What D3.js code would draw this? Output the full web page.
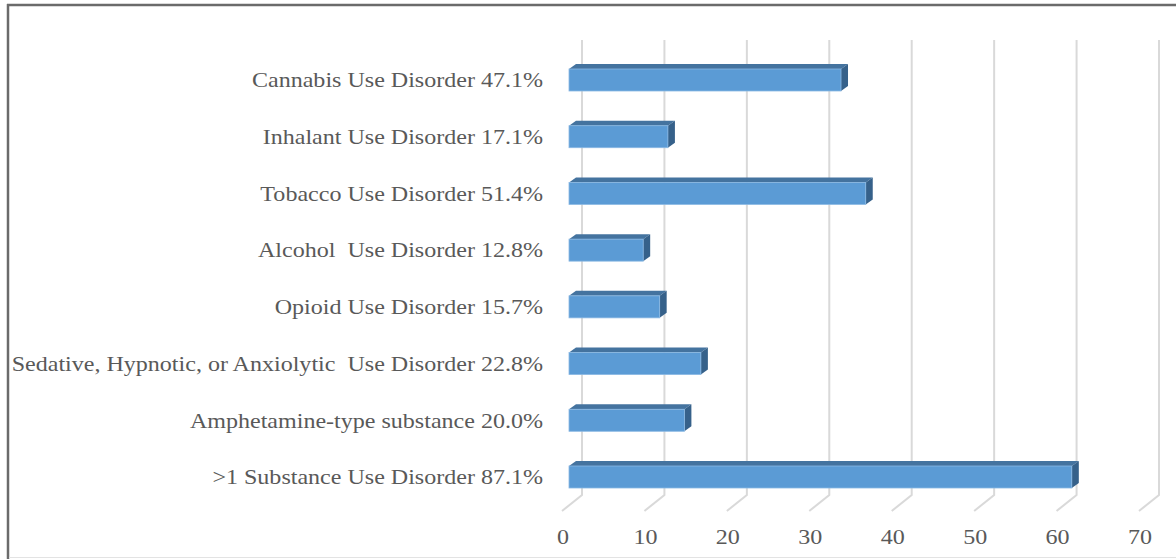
<!DOCTYPE html>
<html>
<head>
<meta charset="utf-8">
<script src="https://cdn.jsdelivr.net/npm/d3@7"></script>
<style>
  body { margin: 0; background: #fff; }
</style>
</head>
<body>
<div id="chart"></div>
<script>
// chart data
const categories = [
  "Cannabis Use Disorder 47.1%",
  "Inhalant Use Disorder 17.1%",
  "Tobacco Use Disorder 51.4%",
  "Alcohol  Use Disorder 12.8%",
  "Opioid Use Disorder 15.7%",
  "Sedative, Hypnotic, or Anxiolytic  Use Disorder 22.8%",
  "Amphetamine-type substance 20.0%",
  ">1 Substance Use Disorder 87.1%"
];
const values = [33, 12, 36, 9, 11, 16, 14, 61];
const ticks = [0, 10, 20, 30, 40, 50, 60, 70];

let width = 1176, height = 559;
let font = "'Liberation Serif', 'Times New Roman', serif";
let stretch = 1.145; // the source picture is a little wider than tall

// 3d offsets
let depth = {dx: 7, dy: 5};
let wall = {dx: 13, top: 40, bottom: 495};
let floor = {dx: -20, dy: 16};
let barH = 22;

let svg = d3.select("#chart").append("svg")
  .attr("width", width)
  .attr("height", height);

// x for the bar front face
let x = d3.scaleLinear().domain([0, 70]).range([569, 1146]);
let y = d3.scalePoint().domain(categories).range([80, 477]);

// frame
svg.append("line").attr("x1", 8).attr("x2", 8).attr("y1", 4).attr("y2", height)
  .attr("stroke", "#6b6b6b").attr("stroke-width", 2.5);
svg.append("line").attr("x1", 7).attr("x2", width).attr("y1", 5).attr("y2", 5)
  .attr("stroke", "#6b6b6b").attr("stroke-width", 2.5);
svg.append("line").attr("x1", 9).attr("x2", width).attr("y1", 557.5).attr("y2", 557.5)
  .attr("stroke", "#e3e3e3").attr("stroke-width", 1);

// gridlines: back wall + floor
let grid = svg.append("g").attr("fill", "none").attr("stroke", "#d9d9d9").attr("stroke-width", 2);
grid.selectAll("path").data(ticks).join("path")
  .attr("d", d => {
    let bx = x(d) + wall.dx;
    return `M${bx},${wall.top}L${bx},${wall.bottom}L${bx + floor.dx},${wall.bottom + floor.dy}`;
  });

// tick labels
svg.append("g").selectAll("text").data(ticks).join("text")
  .attr("transform", d => `translate(${x(d) - 6},537) scale(${stretch},1)`)
  .attr("dy", "0.35em")
  .attr("text-anchor", "middle")
  .style("font-family", font)
  .style("font-size", "21px")
  .attr("fill", "#595959")
  .text(d => d);

// category labels
svg.append("g").selectAll("text").data(categories).join("text")
  .attr("transform", d => `translate(543,${y(d)}) scale(${stretch},1)`)
  .attr("dy", "0.35em")
  .attr("text-anchor", "end")
  .style("font-family", font)
  .style("font-size", "21px")
  .attr("fill", "#595959")
  .style("white-space", "pre")
  .text(d => d);

// bars
let bars = svg.append("g").selectAll("g").data(values).join("g");

bars.append("path")
  .attr("fill", "#44739f")
  .attr("d", (v, i) => {
    let y0 = y(categories[i]) - barH / 2, x0 = x(0), x1 = x(v);
    return `M${x0},${y0}L${x0 + depth.dx},${y0 - depth.dy}L${x1 + depth.dx},${y0 - depth.dy}L${x1},${y0}Z`;
  });

bars.append("path")
  .attr("fill", "#36618a")
  .attr("d", (v, i) => {
    let y0 = y(categories[i]) - barH / 2, x1 = x(v);
    return `M${x1},${y0}L${x1 + depth.dx},${y0 - depth.dy}L${x1 + depth.dx},${y0 + barH - depth.dy}L${x1},${y0 + barH}Z`;
  });

bars.append("rect")
  .attr("x", x(0))
  .attr("y", (v, i) => y(categories[i]) - barH / 2)
  .attr("width", v => x(v) - x(0))
  .attr("height", barH)
  .attr("fill", "#5b9bd5")
  .attr("stroke", "#8ab8e3")
  .attr("stroke-width", 0.8);
</script>
</body>
</html>
